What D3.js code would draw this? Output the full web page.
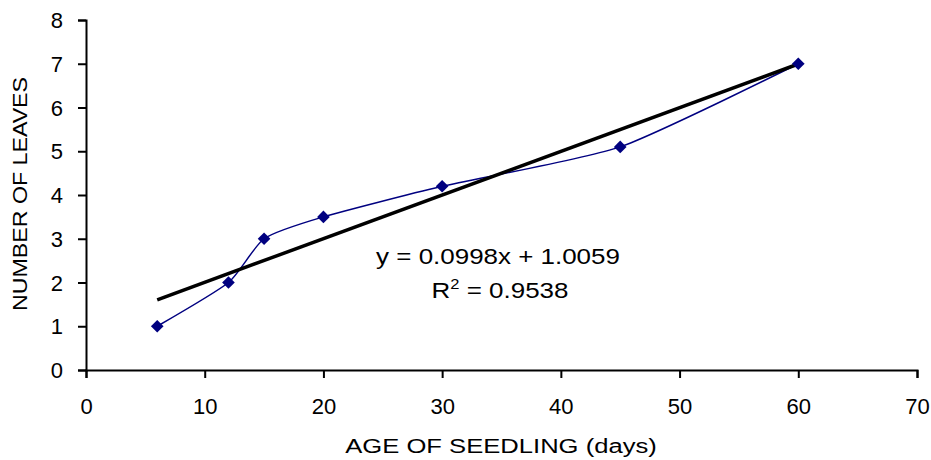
<!DOCTYPE html>
<html>
<head>
<meta charset="utf-8">
<script src="https://cdn.jsdelivr.net/npm/d3@7"></script>
<style>
  body { margin: 0; background: #fff; }
  text { font-family: "Liberation Sans", Arial, sans-serif; fill: #000; }
</style>
</head>
<body>
<svg id="chart" width="931" height="460"></svg>
<script>
const ageDays = [6, 12, 15, 20, 30, 45, 60];
const leaves = [1, 2, 3, 3.5, 4.2, 5.1, 7];
const xTicks = [0, 10, 20, 30, 40, 50, 60, 70];
const yTicks = [0, 1, 2, 3, 4, 5, 6, 7, 8];
const slope = 0.0998, intercept = 1.0059;
const eqText = "y = 0.0998x + 1.0059";
const r2Value = "0.9538";
const xTitle = "AGE OF SEEDLING (days)";
const yTitle = "NUMBER OF LEAVES";

const svg = d3.select("#chart");
const x = d3.scaleLinear().domain([0, 70]).range([86, 917]);
const y = d3.scaleLinear().domain([0, 8]).range([370, 20]);

const xAxis = svg.append("g").attr("transform", "translate(0,370)")
  .call(d3.axisBottom(x).tickValues(xTicks).tickSizeOuter(0).tickSize(8).tickPadding(20));
const yAxis = svg.append("g").attr("transform", "translate(86,0)")
  .call(d3.axisLeft(y).tickValues(yTicks).tickSizeOuter(0).tickSize(8).tickPadding(15));
[xAxis, yAxis].forEach(a => {
  a.select(".domain").attr("stroke", "#000").attr("stroke-width", 2);
  a.selectAll(".tick line").attr("stroke", "#000").attr("stroke-width", 2);
  a.selectAll(".tick text").attr("font-size", 22).attr("font-family", "Liberation Sans, Arial, sans-serif").attr("fill", "#000");
});
yAxis.selectAll(".tick text").attr("dy", "0.35em");

// smooth data line
const data = ageDays.map((d, i) => [d, leaves[i]]);
svg.append("path")
  .datum(data)
  .attr("fill", "none")
  .attr("stroke", "#000080")
  .attr("stroke-width", 1.5)
  .attr("d", d3.line().x(d => x(d[0])).y(d => y(d[1])).curve(d3.curveCardinal.tension(0.4)));

// trendline
const tx = d3.extent(ageDays);
svg.append("line")
  .attr("x1", x(tx[0])).attr("y1", y(slope * tx[0] + intercept))
  .attr("x2", x(tx[1])).attr("y2", y(slope * tx[1] + intercept))
  .attr("stroke", "#000").attr("stroke-width", 3.5);

// markers
svg.selectAll(".pt").data(data).enter().append("path")
  .attr("class", "pt")
  .attr("d", d3.symbol(d3.symbolSquare, 80)())
  .attr("transform", d => `translate(${x(d[0])},${y(d[1])}) rotate(45)`)
  .attr("fill", "#000080");

// equation
svg.append("text").attr("transform", "translate(498,264) scale(1.18,1)").attr("text-anchor", "middle")
  .attr("font-size", 22).text(eqText);
const r2 = svg.append("text").attr("transform", "translate(500,298) scale(1.18,1)").attr("text-anchor", "middle")
  .attr("font-size", 22);
r2.append("tspan").text("R");
r2.append("tspan").attr("font-size", 14).attr("dy", -9).text("2");
r2.append("tspan").attr("dy", 9).text(" = " + r2Value);

// axis titles
svg.append("text").attr("transform", "translate(501,453) scale(1.22,1)").attr("text-anchor", "middle")
  .attr("font-size", 21).text(xTitle);
svg.append("text").attr("transform", "translate(27,194) rotate(-90) scale(1.19,1)")
  .attr("text-anchor", "middle").attr("font-size", 19.5).text(yTitle);
</script>
</body>
</html>
